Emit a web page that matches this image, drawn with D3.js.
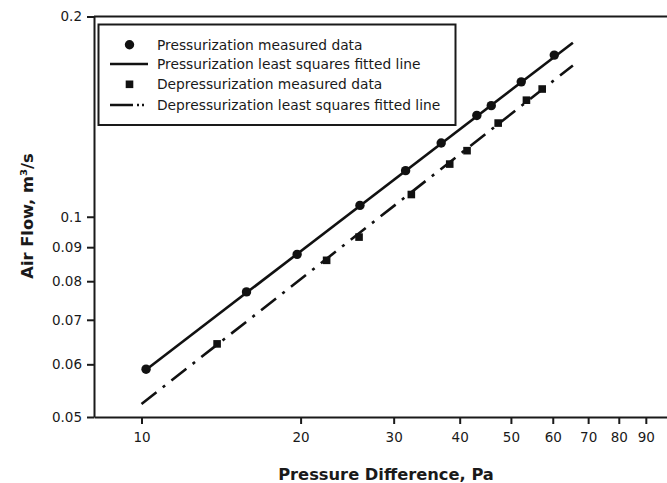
<!DOCTYPE html>
<meta charset="utf-8">
<head>
    <title>Air flow vs pressure difference</title>
</head>
<style>
    body { margin: 0; background: #fff; }
    text { font-family: "DejaVu Sans", Verdana, sans-serif; fill: #1a1a1a; }
    .axis path, .axis line { stroke: #1a1a1a; stroke-width: 2; }
    .axis text { font-size: 13.5px; }
</style>
<div id="graph_div"></div>
<script src="https://d3js.org/d3.v7.min.js"></script>
<script>
    // pressurization measured points (Pa, m3/s)
    var presDiff = [10.2, 15.8, 19.7, 25.9, 31.6, 36.9, 43.1, 45.9, 52.3, 60.4];
    var presFlow = [0.0590, 0.0771, 0.0878, 0.104, 0.1173, 0.1291, 0.142, 0.1469, 0.1595, 0.175];
    // depressurization measured points
    var depDiff = [13.9, 22.4, 25.8, 32.4, 38.3, 41.3, 47.3, 53.5, 57.3];
    var depFlow = [0.0644, 0.0860, 0.0932, 0.108, 0.120, 0.1257, 0.1383, 0.1497, 0.1556];
    // fitted line end points
    var presFitDiff = [10.2, 65.5];
    var presFitFlow = [0.0589, 0.1826];
    var depFitDiff = [10.0, 65.5];
    var depFitFlow = [0.0523, 0.1688];

    var xTicks = [10, 20, 30, 40, 50, 60, 70, 80, 90];
    var yTicks = [0.05, 0.06, 0.07, 0.08, 0.09, 0.1, 0.2];
    var legendLabels = ["Pressurization measured data",
        "Pressurization least squares fitted line",
        "Depressurization measured data",
        "Depressurization least squares fitted line"];

    var width = 667, height = 483;

    var svg = d3.select("#graph_div")
      .append("svg")
        .attr("width", width)
        .attr("height", height);

    var x = d3.scaleLog()
      .domain([8.13, 100])
      .range([94, 670]);
    var y = d3.scaleLog()
      .domain([0.05, 0.2])
      .range([417, 16.5]);

    // top frame line
    svg.append("line")
        .attr("x1", 94).attr("x2", width)
        .attr("y1", y(0.2)).attr("y2", y(0.2))
        .attr("stroke", "#1a1a1a")
        .attr("stroke-width", 2);

    svg.append("g")
        .attr("class", "axis")
        .attr("transform", "translate(0," + y.range()[0] + ")")
        .call(d3.axisBottom(x).tickValues(xTicks).tickFormat(function(d) { return d; })
            .tickSize(7).tickSizeOuter(0).tickPadding(8));

    svg.append("g")
        .attr("class", "axis")
        .attr("transform", "translate(" + x.range()[0] + ",0)")
        .call(d3.axisLeft(y).tickValues(yTicks).tickFormat(function(d) { return String(d); })
            .tickSize(7).tickSizeOuter(0).tickPadding(5));

    d3.selectAll(".axis .domain").attr("stroke-width", 2.2);

    svg.append("text")
        .attr("text-anchor", "middle")
        .attr("x", 386)
        .attr("y", 480)
        .style("font-size", "16.3px")
        .style("font-weight", "bold")
        .text("Pressure Difference, Pa");

    svg.append("text")
        .attr("text-anchor", "middle")
        .attr("transform", "translate(33,216) rotate(-90)")
        .style("font-size", "16.3px")
        .style("font-weight", "bold")
        .text("Air Flow, m³/s");

    var line = d3.line()
        .x(function(d) { return x(d[0]); })
        .y(function(d) { return y(d[1]); });

    svg.append("path")
        .datum(d3.zip(presFitDiff, presFitFlow))
        .attr("d", line)
        .attr("fill", "none")
        .attr("stroke", "#111")
        .attr("stroke-width", 2.6);

    svg.append("path")
        .datum(d3.zip(depFitDiff, depFitFlow))
        .attr("d", line)
        .attr("fill", "none")
        .attr("stroke", "#111")
        .attr("stroke-width", 2.6)
        .attr("stroke-dasharray", "19,8,3,8");

    svg.selectAll(".pres")
      .data(d3.zip(presDiff, presFlow))
      .enter()
      .append("circle")
        .attr("class", "pres")
        .attr("cx", function(d) { return x(d[0]); })
        .attr("cy", function(d) { return y(d[1]); })
        .attr("r", 4.7)
        .attr("fill", "#111");

    svg.selectAll(".dep")
      .data(d3.zip(depDiff, depFlow))
      .enter()
      .append("rect")
        .attr("class", "dep")
        .attr("x", function(d) { return x(d[0]) - 3.8; })
        .attr("y", function(d) { return y(d[1]) - 3.8; })
        .attr("width", 7.6)
        .attr("height", 7.6)
        .attr("fill", "#111");

    // legend
    var legend = svg.append("g");
    legend.append("rect")
        .attr("x", 98.5).attr("y", 24.5)
        .attr("width", 357).attr("height", 100.5)
        .attr("fill", "#fff")
        .attr("stroke", "#1a1a1a")
        .attr("stroke-width", 2);

    var rowY = [44.7, 64, 84.3, 105];
    legend.append("circle")
        .attr("cx", 129.5).attr("cy", rowY[0]).attr("r", 4.7).attr("fill", "#111");
    legend.append("line")
        .attr("x1", 110).attr("x2", 148).attr("y1", rowY[1]).attr("y2", rowY[1])
        .attr("stroke", "#111").attr("stroke-width", 2.6);
    legend.append("rect")
        .attr("x", 125.7).attr("y", rowY[2] - 3.8).attr("width", 7.6).attr("height", 7.6)
        .attr("fill", "#111");
    legend.append("line")
        .attr("x1", 110).attr("x2", 148).attr("y1", rowY[3]).attr("y2", rowY[3])
        .attr("stroke", "#111").attr("stroke-width", 2.6)
        .attr("stroke-dasharray", "23,4,2,3,2,20");

    legend.selectAll(".lab")
      .data(legendLabels)
      .enter()
      .append("text")
        .attr("class", "lab")
        .attr("x", 157)
        .attr("y", function(d, i) { return rowY[i]; })
        .attr("dy", "0.36em")
        .style("font-size", "13.8px")
        .text(function(d) { return d; });
</script>
